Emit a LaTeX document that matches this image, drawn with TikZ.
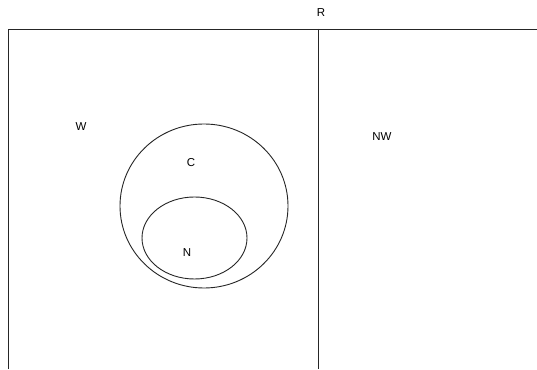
\documentclass[tikz,border=0pt]{standalone}
\usepackage{fontspec}
\setmainfont{Liberation Sans}
\begin{document}
\begin{tikzpicture}[x=1pt,y=1pt,
  lbl/.style={inner sep=0pt,font=\fontsize{11.5}{13}\selectfont},
  edge/.style={line width=0.9pt,black!85}]
\useasboundingbox (0,0) rectangle (537,369);
\fill[white] (0,0) rectangle (537,369);
% frame
\coordinate (tl) at (8,340);
\coordinate (tr) at (537,340);
\coordinate (bl) at (8,0);
\coordinate (tm) at (318,340);
\coordinate (bm) at (318,0);
\draw[edge] (bl) -- (tl) -- (tr);
\draw[edge] (tm) -- (bm);
% sets
\draw[edge] (204,163) ellipse [x radius=84, y radius=82];
\draw[edge] (194.5,131) ellipse [x radius=52.5, y radius=41];
% labels
\node[lbl] (R) at (321,356) {R};
\node[lbl] (W) at (81,242) {W};
\node[lbl] (NW) at (382,232.5) {NW};
\node[lbl] (C) at (191,206.5) {C};
\node[lbl] (N) at (187,116) {N};
\end{tikzpicture}
\end{document}
